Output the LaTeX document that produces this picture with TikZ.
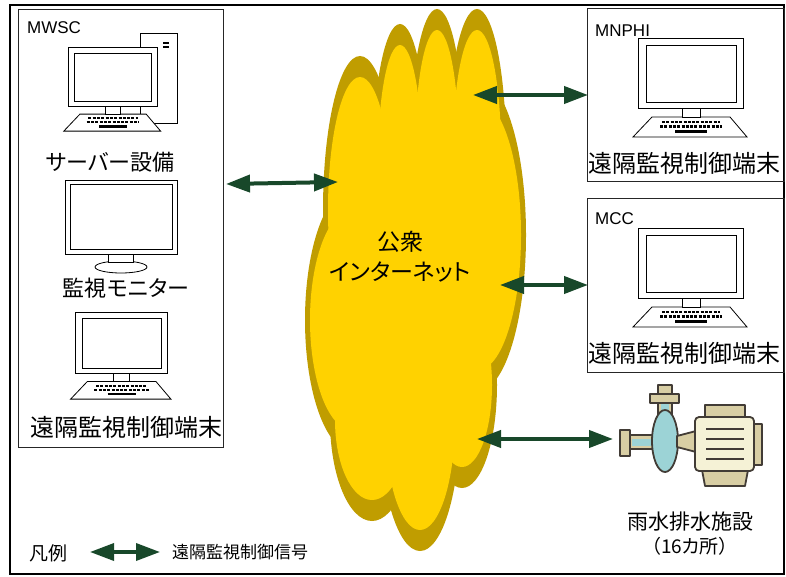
\documentclass[tikz,border=0pt]{standalone}
\usepackage{fontspec}
\setmainfont{Liberation Sans}
\newfontfamily\jp{Noto Sans CJK JP}[RawFeature=+palt]
\usetikzlibrary{arrows.meta,positioning}

\definecolor{sigline}{RGB}{24,72,42}
\definecolor{cloudfill}{RGB}{255,210,0}
\definecolor{cloudedge}{RGB}{192,157,0}
\definecolor{pumpline}{RGB}{66,60,54}
\definecolor{pumptan}{RGB}{216,206,164}
\definecolor{pumpblue}{RGB}{156,211,214}
\definecolor{pumpbody}{RGB}{245,242,214}

% lobes of the network cloud: cx/cy/rx/ry
\newcommand{\cloudlobes}{415/280/85/150, 478/235/43/135, 360/210/32/133,
  400/160/22/115, 437/150/22/120, 477/150/24/120, 352/320/42/110,
  372/420/37/80, 420/420/35/110, 462/385/30/82}

\begin{document}
\begin{tikzpicture}[x=1pt, y=-1pt,
  frame/.style={draw=black, line width=1.6pt},
  sitebox/.style={draw=black!85, line width=0.8pt},
  icon/.style={draw=black, line width=0.8pt, fill=white},
  keyrow/.style={line width=2.2pt, dash pattern=on 3pt off 1.3pt},
  sig/.style={{Triangle[length=24pt,width=17pt]}-{Triangle[length=24pt,width=17pt]},
    line width=4pt, color=sigline},
  site/.style={font=\fontsize{17pt}{19pt}\selectfont, anchor=west, inner sep=0pt},
  lbl/.style={font=\jp\fontsize{22pt}{26pt}\selectfont, inner sep=0pt},
  tlbl/.style={font=\jp\fontsize{24pt}{28pt}\selectfont, inner sep=0pt},
  netlbl/.style={font=\jp\fontsize{23pt}{30pt}\selectfont, align=center, inner sep=0pt},
  termicon/.pic={
    \draw[icon] (14,79) -- (92,79) -- (109,99) -- (-5,99) -- cycle;
    \draw[icon] (44,69) rectangle (62,79);
    \draw[icon] (0,0) rectangle (105,70);
    \draw[icon] (8,7) rectangle (98,64);
    \draw[keyrow] (24,84) -- (82,84);
    \draw[keyrow] (22,88.5) -- (84,88.5);
    \draw[line width=2.4pt] (37,93.5) -- (69,93.5);
  }]

\useasboundingbox (0,0) rectangle (786,577);

\draw[frame] (10,5) rectangle (784,574);
\draw[sitebox] (18,9) rectangle (223,447);
\draw[sitebox] (587,8) rectangle (784,181);
\draw[sitebox] (587,198) rectangle (784,372);

% cloud
\foreach \cx/\cy/\rx/\ry in \cloudlobes
  \fill[cloudedge] (\cx,\cy) ellipse [x radius=\rx+5, y radius=\ry+21];
\foreach \cx/\cy/\rx/\ry in \cloudlobes
  \fill[cloudfill] (\cx,\cy) ellipse [x radius=\rx, y radius=\ry];
\node[netlbl] (net) at (400,257) {公衆\\インターネット};

% MWSC
\node[site] (mwsc) at (27,28) {MWSC};
\draw[icon] (140,33) rectangle (177,123);
\fill (163,42) rectangle (169,44.5);
\fill (163,46) rectangle (169,48.5);
\pic[scale=0.85] at (68,47) {termicon};
\node[lbl] (server) at (110,162) {サーバー設備};

\draw[icon] (121,267) ellipse [x radius=26, y radius=6];
\draw[icon] (108,252) rectangle (133,262);
\draw[icon] (65,180) rectangle (177,254);
\draw[icon] (70,184) rectangle (172,249);
\node[lbl] (monitor) at (126,288) {監視モニター};

\pic[scale=0.88] at (75,312) {termicon};
\node[tlbl] (mwscterm) at (126,427) {遠隔監視制御端末};

% MNPHI / MCC
\node[site] (mnphi) at (595,31) {MNPHI};
\pic at (638,38) {termicon};
\node[tlbl] (mnphiterm) at (684,163) {遠隔監視制御端末};

\node[site] (mcc) at (595,219) {MCC};
\pic at (638,228) {termicon};
\node[tlbl] (mccterm) at (684,353) {遠隔監視制御端末};

% pump and motor
\begin{scope}[draw=pumpline, line width=1.8pt, line join=round]
  \filldraw[fill=pumptan] (620,430) rectangle (630,456);
  \filldraw[fill=pumptan] (630,435) rectangle (654,449);
  \fill[pumpblue] (632,438.5) rectangle (652,445.5);
  \filldraw[fill=pumptan] (658,385) rectangle (672,394);
  \filldraw[fill=pumptan] (658,403) rectangle (672,416);
  \fill[pumpblue] (661,404) rectangle (669,416);
  \filldraw[fill=pumptan] (650,394) rectangle (679,403);
  \filldraw[fill=pumpblue] (665,441) ellipse [x radius=13, y radius=31];
  \filldraw[fill=pumptan] (677,436) -- (696,431) -- (696,452) -- (677,447) -- cycle;
  \filldraw[fill=pumptan] (705,405) rectangle (745,418);
  \filldraw[fill=pumptan] (702,470) -- (748,470) -- (745,486) -- (705,486) -- cycle;
  \filldraw[fill=pumptan] (752,424) rectangle (762,465);
  \filldraw[fill=pumpbody, rounded corners=4pt] (695,417) rectangle (754,471);
  \foreach \y in {429,439,449,459} \draw[line width=1.4pt] (706,\y) -- (744,\y);
\end{scope}
\node[lbl, font=\jp\fontsize{21pt}{24pt}\selectfont] (pump) at (690,522) {雨水排水施設};
\node[lbl, font=\jp\fontsize{19pt}{22pt}\selectfont] (pumpcnt) at (690,546) {（16カ所）};

% signal links
\coordinate (mwscR) at (226,184);  \coordinate (netL) at (338,182);
\coordinate (netA)  at (473,95);   \coordinate (mnphiL) at (588,95);
\coordinate (netB)  at (500,285);  \coordinate (mccL) at (588,285);
\coordinate (netC)  at (477,439);  \coordinate (pumpL) at (613,439);
\draw[sig] (mwscR) -- (netL);
\draw[sig] (netA) -- (mnphiL);
\draw[sig] (netB) -- (mccL);
\draw[sig] (netC) -- (pumpL);

% legend
\node[lbl, font=\jp\fontsize{19pt}{22pt}\selectfont] (legend) at (48,553) {凡例};
\coordinate (keyL) at (90,552);  \coordinate (keyR) at (160,552);
\draw[sig, line width=3.5pt] (keyL) -- (keyR);
\node[lbl, font=\jp\fontsize{17pt}{20pt}\selectfont, anchor=west, right=12pt of keyR] (legtxt) {遠隔監視制御信号};

\end{tikzpicture}
\end{document}
